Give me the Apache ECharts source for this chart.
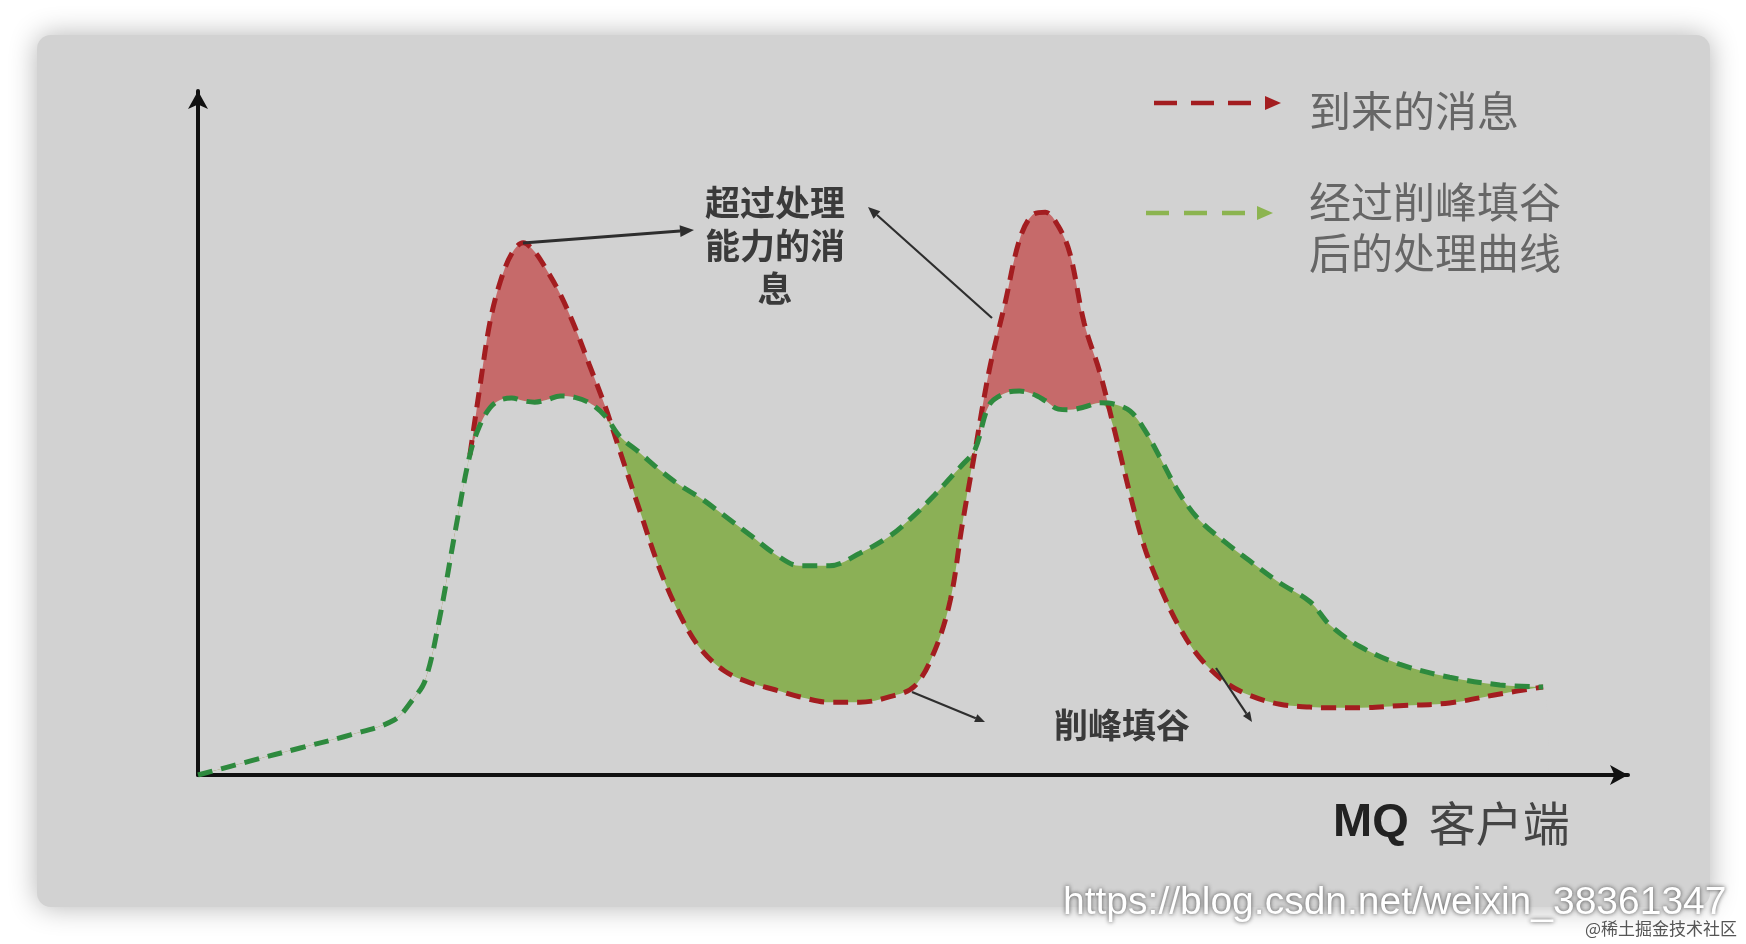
<!DOCTYPE html>
<html>
<head>
<meta charset="utf-8">
<script src="https://cdn.jsdelivr.net/npm/echarts@6/dist/echarts.min.js"></script>
<style>
html,body{margin:0;padding:0;background:#ffffff;}
#chart{width:1746px;height:944px;}
</style>
</head>
<body>
<div id="chart"></div>
<script>
// time axis samples (abstract units)
const X = [0,3.6,7.1,10.6,13.6,14.9,15.8,16.8,17.9,18.9,19.6,20.3,21.0,21.8,22.6,23.4,24.2,25.2,26.2,27.2,28.3,29.3,30.7,32.1,33.5,34.9,36.6,38.4,40.1,41.8,43.9,46.0,48.1,49.8,51.2,52.3,53.1,54.0,55.0,56.1,57.1,58.0,58.9,59.8,60.6,61.6,62.7,63.7,64.8,65.8,66.9,68.2,69.6,71.4,73.1,75.2,77.3,78.7,80.8,83.5,87.0,90.5,93.5];
// 到来的消息 (arriving messages)
const ARRIVAL = [0,2.0,3.9,5.8,7.9,10.8,13.7,22.7,35.4,46.2,56.1,65.4,71.1,75.2,76.8,75.5,73.0,69.3,64.6,59.2,53.2,46.9,38.2,29.7,23.1,18.3,15.0,13.3,12.3,11.3,10.5,10.5,11.3,12.8,17.9,25.3,35.8,46.6,58.4,68.1,77.2,80.8,81.2,79.2,75.3,65.2,58.0,49.8,40.4,32.8,27.0,21.4,17.0,13.4,11.5,10.2,9.8,9.7,9.7,10.0,10.4,11.7,12.7];
// 经过削峰填谷后的处理曲线 (processed curve)
const PROCESSED = [0,2.0,3.9,5.8,7.9,10.8,13.7,22.7,35.4,46.2,50.5,53.0,54.1,54.4,54.0,53.8,54.1,54.7,54.5,53.7,51.8,48.9,46.5,44.0,41.8,40.0,37.4,34.6,31.9,30.2,30.2,32.0,34.5,37.5,40.4,42.9,44.7,46.9,53.4,55.1,55.4,55.0,54.0,52.8,52.7,53.1,53.7,53.5,52.5,49.8,45.7,40.7,36.8,33.6,30.9,27.7,25.0,21.6,18.5,16.0,14.1,13.0,12.7];

const LEGEND_NAMES = ['到来的消息', '经过削峰填谷\n后的处理曲线'];
const AXIS_NAME_LATIN = 'MQ';
const AXIS_NAME_CJK = '客户端';
const NOTE_OVER = '超过处理\n能力的消\n息';
const NOTE_SHAVE = '削峰填谷';
const WATERMARK = 'https://blog.csdn.net/weixin_38361347';
const WATERMARK2 = '@稀土掘金技术社区';

const PANEL = '#d2d2d2';
const RED = '#a31d20';
const GREEN_LINE = '#2e8a3e';
const GREEN_LEG = '#8cb450';
const PINK_FILL = '#c66a6a';
const GREEN_FILL = '#8bb056';
const CJK = '"Noto Sans CJK SC", "Noto Sans", sans-serif';

const pair = (arr) => X.map((x, i) => [x, arr[i]]);
const lower = X.map((x, i) => Math.min(ARRIVAL[i], PROCESSED[i]));
// mask reaches a hair past the last sample so the fills' end edge does not leave a seam
const maskData = pair(lower).concat([[X[X.length - 1] + 0.4, 0]]);
const firstDiff = ARRIVAL.findIndex((v, i) => v !== PROCESSED[i]);
const arrivalVisible = X.map((x, i) => [x, i >= firstDiff - 1 ? ARRIVAL[i] : null]);

const SMOOTH = 0.35;
const hidden = { opacity: 0, width: 0 };

function arrow(x1, y1, x2, y2, w, head, color) {
  const ang = Math.atan2(y2 - y1, x2 - x1);
  const bx = x2 - head * Math.cos(ang), by = y2 - head * Math.sin(ang);
  const hw = head * 0.42;
  const px = -Math.sin(ang) * hw, py = Math.cos(ang) * hw;
  return [
    { type: 'line', z: 50, shape: { x1: x1, y1: y1, x2: bx, y2: by }, style: { stroke: color, lineWidth: w } },
    { type: 'polygon', z: 50, shape: { points: [[x2, y2], [bx + px, by + py], [bx - px, by - py]] }, style: { fill: color } }
  ];
}

const chart = echarts.init(document.getElementById('chart'), null, { renderer: 'canvas' });

const graphics = [
  { type: 'rect', z: -100, shape: { x: 37, y: 35, width: 1673, height: 872, r: 14 },
    style: { fill: PANEL, shadowBlur: 28, shadowColor: 'rgba(0,0,0,0.30)' } },
  // legend icons
  { type: 'line', z: 50, shape: { x1: 1154, y1: 103, x2: 1258, y2: 103 },
    style: { stroke: RED, lineWidth: 4.5, lineDash: [23, 14] } },
  { type: 'polygon', z: 50, shape: { points: [[1281, 103], [1265, 96], [1265, 110]] }, style: { fill: RED } },
  { type: 'line', z: 50, shape: { x1: 1146, y1: 213, x2: 1250, y2: 213 },
    style: { stroke: GREEN_LEG, lineWidth: 4.5, lineDash: [23, 15] } },
  { type: 'polygon', z: 50, shape: { points: [[1273, 213], [1257, 206], [1257, 220]] }, style: { fill: GREEN_LEG } },
  { type: 'text', z: 50, x: 1309, y: 111,
    style: { text: LEGEND_NAMES[0], font: '42px ' + CJK, fill: '#666666', align: 'left', verticalAlign: 'middle' } },
  { type: 'text', z: 50, x: 1309, y: 228,
    style: { text: LEGEND_NAMES[1], font: '42px ' + CJK, fill: '#666666', align: 'left', verticalAlign: 'middle', lineHeight: 51 } },
  // annotations
  { type: 'text', z: 50, x: 775, y: 246,
    style: { text: NOTE_OVER, font: 'bold 35px ' + CJK, fill: '#3a3a3a', align: 'center', verticalAlign: 'middle', lineHeight: 43 } },
  { type: 'text', z: 50, x: 1122, y: 725,
    style: { text: NOTE_SHAVE, font: 'bold 34px ' + CJK, fill: '#3a3a3a', align: 'center', verticalAlign: 'middle' } },
  // axis name
  { type: 'text', z: 50, x: 1333, y: 823,
    style: { text: '{a|' + AXIS_NAME_LATIN + '}{b|' + AXIS_NAME_CJK + '}', align: 'left', verticalAlign: 'middle',
      rich: { a: { font: 'bold 47px "Liberation Sans", Arial, sans-serif', fill: '#222' },
              b: { font: '47px ' + CJK, fill: '#444', padding: [0, 0, 0, 20] } } } },
  // watermarks
  { type: 'text', z: 60, x: 1063, y: 923,
    style: { text: WATERMARK, font: '39px "Liberation Sans", Arial, sans-serif', fill: '#ffffff', align: 'left', verticalAlign: 'bottom',
      textShadowColor: 'rgba(60,60,60,0.9)', textShadowBlur: 4 } },
  { type: 'text', z: 61, x: 1737, y: 937,
    style: { text: WATERMARK2, font: '17px ' + CJK, fill: '#555555', align: 'right', verticalAlign: 'bottom' } }
];
graphics.push(...arrow(523, 243, 694, 230, 3, 14, '#2e2e2e'));
graphics.push(...arrow(992, 318, 868, 207, 2.2, 12, '#2e2e2e'));
graphics.push(...arrow(912, 692, 985, 722, 2.2, 10, '#2e2e2e'));
graphics.push(...arrow(1216, 668, 1252, 722, 2.2, 10, '#2e2e2e'));

const option = {
  animation: false,
  backgroundColor: '#ffffff',
  grid: { left: 198, right: 118, top: 91, bottom: 169, containLabel: false },
  xAxis: {
    type: 'value', min: 0, max: 99.4, z: 5,
    axisLine: { show: true, onZero: false, symbol: ['none', 'arrow'], symbolSize: [15, 18],
      lineStyle: { color: '#111111', width: 4 } },
    axisTick: { show: false }, axisLabel: { show: false }, splitLine: { show: false }
  },
  yAxis: {
    type: 'value', min: 0, max: 98.7, z: 5,
    axisLine: { show: true, onZero: false, symbol: ['none', 'arrow'], symbolSize: [15, 18],
      lineStyle: { color: '#111111', width: 4 } },
    axisTick: { show: false }, axisLabel: { show: false }, splitLine: { show: false }
  },
  graphic: graphics,
  series: [
    // area under arrivals (pink), then area under processed (green), then panel-coloured area under the lower curve
    { name: 'peak-fill', type: 'line', data: pair(ARRIVAL), smooth: SMOOTH,
      showSymbol: false, symbol: 'none', lineStyle: hidden, silent: true, z: 1,
      areaStyle: { color: PINK_FILL, opacity: 1 } },
    { name: 'valley-fill', type: 'line', data: pair(PROCESSED), smooth: SMOOTH,
      showSymbol: false, symbol: 'none', lineStyle: hidden, silent: true, z: 2,
      areaStyle: { color: GREEN_FILL, opacity: 1 } },
    { name: 'mask', type: 'line', data: maskData, smooth: SMOOTH,
      showSymbol: false, symbol: 'none', lineStyle: hidden, silent: true, z: 3,
      areaStyle: { color: PANEL, opacity: 1 } },
    { name: LEGEND_NAMES[0], type: 'line', data: arrivalVisible, smooth: SMOOTH, connectNulls: false,
      showSymbol: false, symbol: 'none', z: 4,
      lineStyle: { color: RED, width: 5, type: [15, 9], cap: 'butt' } },
    { name: LEGEND_NAMES[1], type: 'line', data: pair(PROCESSED), smooth: SMOOTH,
      showSymbol: false, symbol: 'none', z: 5,
      lineStyle: { color: GREEN_LINE, width: 5, type: [15, 9], cap: 'butt' } }
  ]
};
chart.setOption(option);
</script>
</body>
</html>
